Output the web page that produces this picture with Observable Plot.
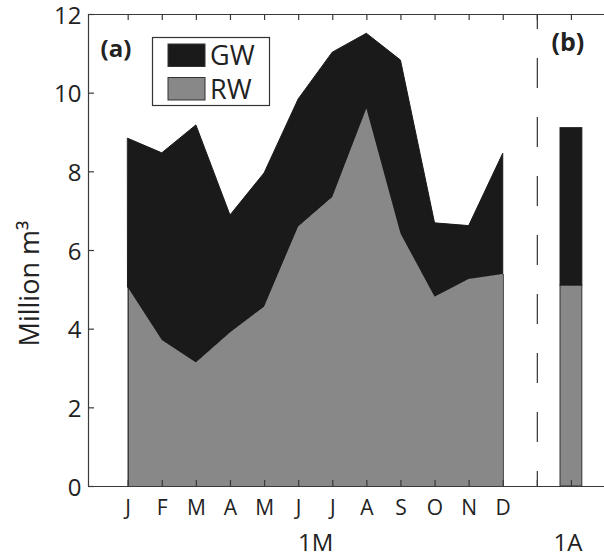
<!DOCTYPE html>
<html>
<head>
<meta charset="utf-8">
<script src="https://cdn.jsdelivr.net/npm/d3@7"></script>
<script src="https://cdn.jsdelivr.net/npm/@observablehq/plot@0.6"></script>
<style>
  html, body { margin: 0; padding: 0; background: #fff; }
  #chart { width: 604px; height: 558px; }
</style>
</head>
<body>
<div id="chart"></div>
<script>
// ---- data ----
const monthLabels = ["J","F","M","A","M","J","J","A","S","O","N","D"];
const monthPos = [1,2,3,4,5,6,7,8,9,10,11,12];
const rwMonthly = [5.05, 3.71, 3.14, 3.90, 4.56, 6.60, 7.35, 9.60, 6.42, 4.81, 5.26, 5.39];
const gwMonthly = [3.79, 4.76, 6.04, 2.99, 3.40, 3.24, 3.68, 1.91, 4.41, 1.88, 1.36, 3.07];
const annualPos = [14];
const rwAnnual = [5.11];
const gwAnnual = [4.00];
const separatorPos = [13];
const xTickPos = [1,2,3,4,5,6,7,8,9,10,11,12,13,14];
const yTicks = [0,2,4,6,8,10,12];
const groupLabels = ["1M", "1A"];
const groupPos = [6.5, 13.9];
const seriesNames = ["GW", "RW"];

// ---- tables ----
const monthly = monthPos.map((p, i) => ({pos: p, rw: rwMonthly[i], total: rwMonthly[i] + gwMonthly[i]}));
const annual = annualPos.map((p, i) => ({pos: p, rw: rwAnnual[i], total: rwAnnual[i] + gwAnnual[i]}));
const monthRows = monthPos.map((p, i) => ({pos: p, label: monthLabels[i]}));
const groupRows = groupPos.map((p, i) => ({pos: p, label: groupLabels[i]}));

const BLACK = "#1a1a1a";
const GREY = "#878887";
const AXIS = "#3a3a3a";
const barHalf = 0.32;
const W = 604, H = 558, ML = 88, MR = 0, MT = 14, MB = 72;
const TICK = 6;
const frameW = W - ML - MR, frameH = H - MT - MB;

const chart = Plot.plot({
  width: W,
  height: H,
  marginLeft: ML,
  marginRight: MR,
  marginTop: MT,
  marginBottom: MB,
  style: {fontFamily: "'Open Sans', sans-serif", color: "#222", background: "#fff"},
  x: {domain: [-0.164, 14.97], axis: null},
  y: {domain: [0, 12], axis: null},
  marks: [
    // GW (top) area, from RW up to total
    Plot.areaY(monthly, {x: "pos", y1: "rw", y2: "total", fill: BLACK, stroke: BLACK, strokeWidth: 1}),
    // RW area
    Plot.areaY(monthly, {x: "pos", y1: 0, y2: "rw", fill: GREY}),
    Plot.ruleX([monthly[0], monthly[monthly.length - 1]], {x: "pos", y1: 0, y2: "rw", stroke: BLACK, strokeWidth: 1}),
    // annual bar
    Plot.rectY(annual, {x1: d => d.pos - barHalf, x2: d => d.pos + barHalf, y1: 0, y2: "rw", fill: GREY, stroke: "#333", strokeWidth: 1}),
    Plot.rectY(annual, {x1: d => d.pos - barHalf, x2: d => d.pos + barHalf, y1: "rw", y2: "total", fill: BLACK, stroke: BLACK, strokeWidth: 1}),
    // dashed separator
    Plot.ruleX(separatorPos, {y1: 12, y2: 0, stroke: "#333", strokeWidth: 1.2, strokeDasharray: "30,29", strokeDashoffset: 15}),
    // frame lines
    Plot.ruleY([0, 12], {stroke: AXIS, strokeWidth: 1.2}),
    Plot.frame({anchor: "left", stroke: AXIS, strokeWidth: 1.2}),
    // inward ticks
    Plot.ruleX(xTickPos, {insetTop: frameH - TICK, stroke: AXIS, strokeWidth: 1.2}),
    Plot.ruleX(xTickPos, {insetBottom: frameH - TICK, stroke: AXIS, strokeWidth: 1.2}),
    Plot.ruleY(yTicks, {insetRight: frameW - TICK, stroke: AXIS, strokeWidth: 1.2}),
    // tick labels
    Plot.text(yTicks, {y: d => d, text: d => String(d), frameAnchor: "left", textAnchor: "end", dx: -7, dy: 1.5, fontSize: 24}),
    Plot.text(monthRows, {x: "pos", text: "label", frameAnchor: "bottom", lineAnchor: "top", dy: 14, fontSize: 21}),
    Plot.text(groupRows, {x: "pos", text: "label", frameAnchor: "bottom", lineAnchor: "top", dy: 47, fontSize: 24}),
    // y label
    Plot.text(["Million m\u00b3"], {frameAnchor: "left", rotate: -90, dx: -58, dy: 33, fontSize: 27, textAnchor: "middle", lineAnchor: "middle"}),
    // panel labels
    Plot.text(["(a)"], {frameAnchor: "top-left", dx: 12, dy: 25, fontSize: 24, fontWeight: "bold", textAnchor: "start", lineAnchor: "top"}),
    Plot.text(["(b)"], {frameAnchor: "top-left", dx: 463, dy: 19, fontSize: 25, fontWeight: "bold", textAnchor: "start", lineAnchor: "top"})
  ]
});

document.getElementById("chart").appendChild(chart);

// legend (inside plot area, upper left)
const svg = d3.select(chart);
const lg = svg.append("g").attr("transform", "translate(152,37)");
lg.append("rect").attr("x", 0.5).attr("y", 0.5).attr("width", 117).attr("height", 68)
  .attr("fill", "#fff").attr("stroke", "#333").attr("stroke-width", 1.2);
const swatchFill = [BLACK, GREY];
seriesNames.forEach((name, i) => {
  lg.append("rect").attr("x", 16).attr("y", 7 + i * 33.5).attr("width", 37).attr("height", 22.5)
    .attr("fill", swatchFill[i]).attr("stroke", "#333").attr("stroke-width", 1);
  lg.append("text").attr("x", 58).attr("y", 27.5 + i * 34)
    .attr("text-anchor", "start")
    .attr("font-size", 27).attr("fill", "#222").attr("font-family", "'Open Sans', sans-serif")
    .text(name);
});
</script>
</body>
</html>
